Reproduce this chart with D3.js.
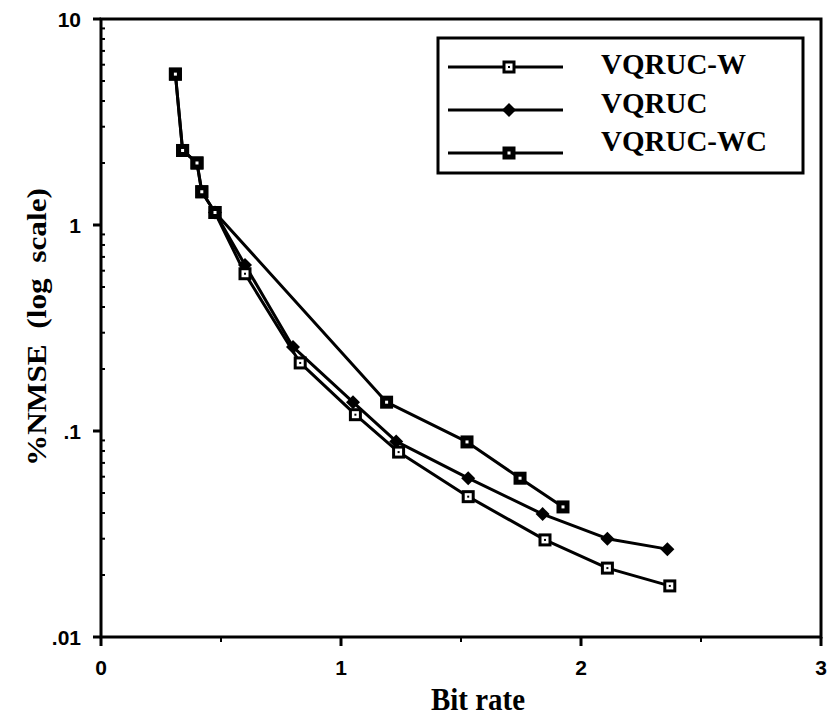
<!DOCTYPE html>
<html><head><meta charset="utf-8">
<script src="https://cdn.jsdelivr.net/npm/d3@7"></script>
<style>body{margin:0;background:#fff}</style>
</head><body>
<svg id="c" width="828" height="719"></svg>
<script>
const seriesNames = ["VQRUC-W", "VQRUC", "VQRUC-WC"];
const wX  = [0.31, 0.34, 0.40, 0.42, 0.475, 0.60, 0.83, 1.06, 1.24, 1.53, 1.85, 2.11, 2.37];
const wY  = [5.4, 2.3, 2.0, 1.45, 1.15, 0.58, 0.214, 0.12, 0.079, 0.048, 0.0296, 0.0216, 0.0177];
const vX  = [0.475, 0.60, 0.80, 1.05, 1.23, 1.53, 1.84, 2.11, 2.36];
const vY  = [1.15, 0.64, 0.256, 0.138, 0.089, 0.059, 0.0395, 0.030, 0.0267];
const wcX = [0.31, 0.34, 0.40, 0.42, 0.475, 1.19, 1.525, 1.746, 1.925];
const wcY = [5.4, 2.3, 2.0, 1.45, 1.15, 0.138, 0.0885, 0.059, 0.0428];
const xTicks = [0, 1, 2, 3];
const xMinor = [0.5, 1.5, 2.5];
const yTicks = [10, 1, 0.1, 0.01];
const yTickLabels = ["10", "1", ".1", ".01"];

const svg = d3.select("#c");
const L = 101, R = 821, T = 19, B = 637;
const x = d3.scaleLinear().domain([0, 3]).range([L, R]);
const y = d3.scaleLog().domain([0.01, 10]).range([B, T]);

// frame
svg.append("rect").attr("x", L).attr("y", T).attr("width", R - L).attr("height", B - T)
  .attr("fill", "none").attr("stroke", "#000").attr("stroke-width", 3);

// y axis minor ticks (inward)
const yMinor = [];
[0.01, 0.1, 1].forEach(d => { for (let k = 2; k <= 9; k++) yMinor.push(d * k); });
svg.append("g").selectAll("line").data(yMinor).join("line")
  .attr("x1", L).attr("x2", L + 4).attr("y1", d => y(d)).attr("y2", d => y(d))
  .attr("stroke", "#000").attr("stroke-width", 2);
// y major ticks (outward)
svg.append("g").selectAll("line").data(yTicks).join("line")
  .attr("x1", L - 8).attr("x2", L).attr("y1", d => y(d)).attr("y2", d => y(d))
  .attr("stroke", "#000").attr("stroke-width", 3);
svg.append("g").selectAll("text").data(yTicks).join("text")
  .attr("x", L - 20).attr("y", d => y(d)).attr("dy", "0.36em")
  .attr("text-anchor", "end").attr("font-family", "Liberation Sans, Arial, sans-serif")
  .attr("font-weight", "bold").attr("font-size", 21)
  .text((d, i) => yTickLabels[i]);

// x ticks
svg.append("g").selectAll("line").data(xTicks).join("line")
  .attr("x1", d => x(d)).attr("x2", d => x(d)).attr("y1", B).attr("y2", B + 9)
  .attr("stroke", "#000").attr("stroke-width", 3);
svg.append("g").selectAll("line").data(xMinor).join("line")
  .attr("x1", d => x(d)).attr("x2", d => x(d)).attr("y1", B).attr("y2", B + 5)
  .attr("stroke", "#000").attr("stroke-width", 2);
svg.append("g").selectAll("text").data(xTicks).join("text")
  .attr("x", d => x(d)).attr("y", B + 38)
  .attr("text-anchor", "middle").attr("font-family", "Liberation Sans, Arial, sans-serif")
  .attr("font-weight", "bold").attr("font-size", 21)
  .text(d => d);

// axis titles
svg.append("text").attr("x", 478).attr("y", 710).attr("text-anchor", "middle")
  .attr("font-family", "Liberation Serif, Times New Roman, serif").attr("font-weight", "bold")
  .attr("font-size", 32).attr("textLength", 94).attr("lengthAdjust", "spacingAndGlyphs")
  .text("Bit rate");
svg.append("text").attr("transform", "translate(46,327) rotate(-90)").attr("text-anchor", "middle")
  .attr("font-family", "Liberation Serif, Times New Roman, serif").attr("font-weight", "bold")
  .attr("font-size", 27).attr("textLength", 278).attr("lengthAdjust", "spacingAndGlyphs")
  .attr("xml:space", "preserve").text("%NMSE  (log  scale)");

const line = d3.line().x(d => x(d[0])).y(d => y(d[1]));
const zip = (a, b) => a.map((v, i) => [v, b[i]]);
const data = {
  "VQRUC-W": zip(wX, wY),
  "VQRUC": zip(vX, vY),
  "VQRUC-WC": zip(wcX, wcY)
};

function marker(g, type, cx, cy) {
  if (type === "VQRUC") {
    const s = 7;
    g.append("path").attr("d", `M${cx},${cy - s}L${cx + s},${cy}L${cx},${cy + s}L${cx - s},${cy}Z`)
      .attr("fill", "#000");
  } else if (type === "VQRUC-W") {
    g.append("rect").attr("x", cx - 5).attr("y", cy - 5).attr("width", 10).attr("height", 10)
      .attr("fill", "#fff").attr("stroke", "#000").attr("stroke-width", 3);
    g.append("rect").attr("x", cx - 1).attr("y", cy - 1).attr("width", 2).attr("height", 2).attr("fill", "#000");
  } else {
    g.append("rect").attr("x", cx - 6.5).attr("y", cy - 6.5).attr("width", 13).attr("height", 13)
      .attr("fill", "#000");
    g.append("rect").attr("x", cx - 1.5).attr("y", cy - 1.5).attr("width", 3).attr("height", 3).attr("fill", "#fff");
  }
}

["VQRUC", "VQRUC-W", "VQRUC-WC"].forEach(name => {
  svg.append("path").datum(data[name]).attr("d", line)
    .attr("fill", "none").attr("stroke", "#000").attr("stroke-width", 3).attr("stroke-linejoin", "round");
});
["VQRUC", "VQRUC-W", "VQRUC-WC"].forEach(name => {
  const g = svg.append("g");
  data[name].forEach(d => marker(g, name, x(d[0]), y(d[1])));
});

// legend
const lg = svg.append("g");
lg.append("rect").attr("x", 438).attr("y", 38).attr("width", 365).attr("height", 135)
  .attr("fill", "#fff").attr("stroke", "#000").attr("stroke-width", 3);
const textBase = [74, 113, 151];
seriesNames.forEach((name, i) => {
  const yy = 67 + i * 43;
  lg.append("line").attr("x1", 448).attr("x2", 563).attr("y1", yy).attr("y2", yy)
    .attr("stroke", "#000").attr("stroke-width", 3);
  marker(lg, name, 509, yy);
  lg.append("text").attr("x", 601).attr("y", textBase[i])
    .attr("font-family", "Liberation Serif, Times New Roman, serif").attr("font-weight", "bold")
    .attr("font-size", 29).text(name);
});
</script>
</body></html>
